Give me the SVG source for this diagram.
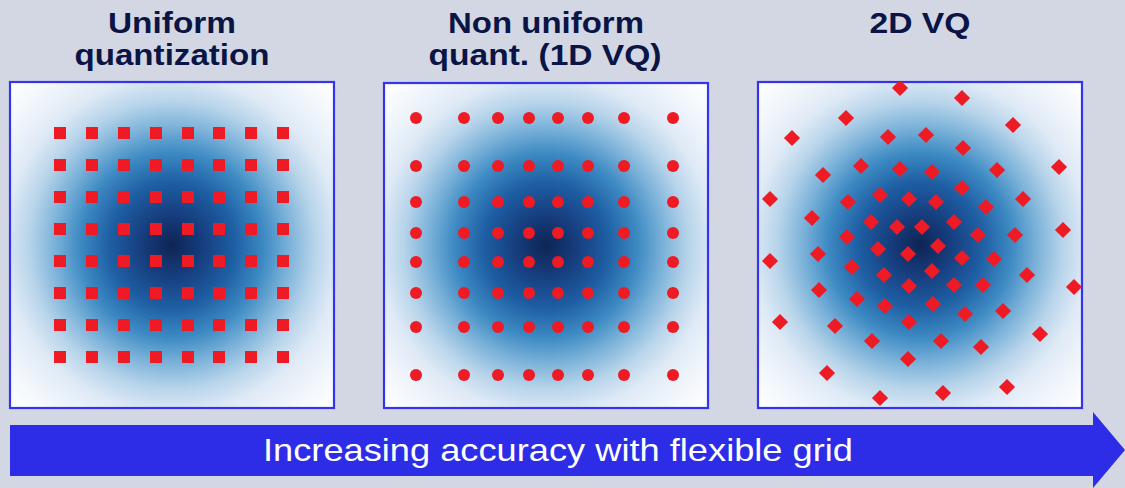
<svg xmlns="http://www.w3.org/2000/svg" width="1125" height="488" viewBox="0 0 1125 488">
<style>
.title{font-family:"Liberation Sans",Arial,sans-serif;font-weight:bold;font-size:29px;fill:#0a1445;text-anchor:middle}
.panel{stroke:#3434f0;stroke-width:2.2;fill:url(#blob)}
.pt{fill:#ee1a24}
.label{font-family:"Liberation Sans",Arial,sans-serif;font-size:32px;fill:#ffffff;text-anchor:middle}
</style>
<defs>
<radialGradient id="blob" cx="0.5" cy="0.5" r="0.71">
<stop offset="0" stop-color="#0e2454"/>
<stop offset="0.13" stop-color="#163d7d"/>
<stop offset="0.27" stop-color="#1e5ea3"/>
<stop offset="0.4" stop-color="#3d8ac3"/>
<stop offset="0.51" stop-color="#7bb2d9"/>
<stop offset="0.62" stop-color="#b7d4ea"/>
<stop offset="0.73" stop-color="#dfeaf6"/>
<stop offset="0.87" stop-color="#f3f7fc"/>
<stop offset="1" stop-color="#ffffff"/>
</radialGradient>
<rect id="sq" x="-6" y="-6" width="12" height="12"/>
<rect id="dm" x="-5.7" y="-5.7" width="11.4" height="11.4" transform="rotate(45)"/>
<clipPath id="clip3"><rect x="758" y="82" width="324" height="326"/></clipPath>
</defs>
<rect x="0" y="0" width="1125" height="488" fill="#d3d7e3"/>

<g id="uniform">
<text class="title" x="172" y="33" textLength="128" lengthAdjust="spacingAndGlyphs">Uniform</text>
<text class="title" x="172" y="65" textLength="195" lengthAdjust="spacingAndGlyphs">quantization</text>
<rect class="panel" x="10" y="82" width="324" height="326"/>
<g class="pt">
<use href="#sq" x="60" y="133"/><use href="#sq" x="92" y="133"/><use href="#sq" x="124" y="133"/><use href="#sq" x="156" y="133"/><use href="#sq" x="188" y="133"/><use href="#sq" x="219" y="133"/><use href="#sq" x="251" y="133"/><use href="#sq" x="283" y="133"/>
<use href="#sq" x="60" y="165"/><use href="#sq" x="92" y="165"/><use href="#sq" x="124" y="165"/><use href="#sq" x="156" y="165"/><use href="#sq" x="188" y="165"/><use href="#sq" x="219" y="165"/><use href="#sq" x="251" y="165"/><use href="#sq" x="283" y="165"/>
<use href="#sq" x="60" y="197"/><use href="#sq" x="92" y="197"/><use href="#sq" x="124" y="197"/><use href="#sq" x="156" y="197"/><use href="#sq" x="188" y="197"/><use href="#sq" x="219" y="197"/><use href="#sq" x="251" y="197"/><use href="#sq" x="283" y="197"/>
<use href="#sq" x="60" y="229"/><use href="#sq" x="92" y="229"/><use href="#sq" x="124" y="229"/><use href="#sq" x="156" y="229"/><use href="#sq" x="188" y="229"/><use href="#sq" x="219" y="229"/><use href="#sq" x="251" y="229"/><use href="#sq" x="283" y="229"/>
<use href="#sq" x="60" y="261"/><use href="#sq" x="92" y="261"/><use href="#sq" x="124" y="261"/><use href="#sq" x="156" y="261"/><use href="#sq" x="188" y="261"/><use href="#sq" x="219" y="261"/><use href="#sq" x="251" y="261"/><use href="#sq" x="283" y="261"/>
<use href="#sq" x="60" y="293"/><use href="#sq" x="92" y="293"/><use href="#sq" x="124" y="293"/><use href="#sq" x="156" y="293"/><use href="#sq" x="188" y="293"/><use href="#sq" x="219" y="293"/><use href="#sq" x="251" y="293"/><use href="#sq" x="283" y="293"/>
<use href="#sq" x="60" y="325"/><use href="#sq" x="92" y="325"/><use href="#sq" x="124" y="325"/><use href="#sq" x="156" y="325"/><use href="#sq" x="188" y="325"/><use href="#sq" x="219" y="325"/><use href="#sq" x="251" y="325"/><use href="#sq" x="283" y="325"/>
<use href="#sq" x="60" y="357"/><use href="#sq" x="92" y="357"/><use href="#sq" x="124" y="357"/><use href="#sq" x="156" y="357"/><use href="#sq" x="188" y="357"/><use href="#sq" x="219" y="357"/><use href="#sq" x="251" y="357"/><use href="#sq" x="283" y="357"/>
</g>
</g>

<g id="nonuniform">
<text class="title" x="546" y="33" textLength="196" lengthAdjust="spacingAndGlyphs">Non uniform</text>
<text class="title" x="545" y="65" textLength="233" lengthAdjust="spacingAndGlyphs">quant. (1D VQ)</text>
<rect class="panel" x="384" y="83" width="324" height="325"/>
<g class="pt">
<circle cx="416" cy="118" r="6"/><circle cx="464" cy="118" r="6"/><circle cx="498" cy="118" r="6"/><circle cx="529" cy="118" r="6"/><circle cx="558" cy="118" r="6"/><circle cx="588" cy="118" r="6"/><circle cx="624" cy="118" r="6"/><circle cx="673" cy="118" r="6"/>
<circle cx="416" cy="166" r="6"/><circle cx="464" cy="166" r="6"/><circle cx="498" cy="166" r="6"/><circle cx="529" cy="166" r="6"/><circle cx="558" cy="166" r="6"/><circle cx="588" cy="166" r="6"/><circle cx="624" cy="166" r="6"/><circle cx="673" cy="166" r="6"/>
<circle cx="416" cy="202" r="6"/><circle cx="464" cy="202" r="6"/><circle cx="498" cy="202" r="6"/><circle cx="529" cy="202" r="6"/><circle cx="558" cy="202" r="6"/><circle cx="588" cy="202" r="6"/><circle cx="624" cy="202" r="6"/><circle cx="673" cy="202" r="6"/>
<circle cx="416" cy="233" r="6"/><circle cx="464" cy="233" r="6"/><circle cx="498" cy="233" r="6"/><circle cx="529" cy="233" r="6"/><circle cx="558" cy="233" r="6"/><circle cx="588" cy="233" r="6"/><circle cx="624" cy="233" r="6"/><circle cx="673" cy="233" r="6"/>
<circle cx="416" cy="262" r="6"/><circle cx="464" cy="262" r="6"/><circle cx="498" cy="262" r="6"/><circle cx="529" cy="262" r="6"/><circle cx="558" cy="262" r="6"/><circle cx="588" cy="262" r="6"/><circle cx="624" cy="262" r="6"/><circle cx="673" cy="262" r="6"/>
<circle cx="416" cy="293" r="6"/><circle cx="464" cy="293" r="6"/><circle cx="498" cy="293" r="6"/><circle cx="529" cy="293" r="6"/><circle cx="558" cy="293" r="6"/><circle cx="588" cy="293" r="6"/><circle cx="624" cy="293" r="6"/><circle cx="673" cy="293" r="6"/>
<circle cx="416" cy="327" r="6"/><circle cx="464" cy="327" r="6"/><circle cx="498" cy="327" r="6"/><circle cx="529" cy="327" r="6"/><circle cx="558" cy="327" r="6"/><circle cx="588" cy="327" r="6"/><circle cx="624" cy="327" r="6"/><circle cx="673" cy="327" r="6"/>
<circle cx="416" cy="375" r="6"/><circle cx="464" cy="375" r="6"/><circle cx="498" cy="375" r="6"/><circle cx="529" cy="375" r="6"/><circle cx="558" cy="375" r="6"/><circle cx="588" cy="375" r="6"/><circle cx="624" cy="375" r="6"/><circle cx="673" cy="375" r="6"/>
</g>
</g>

<g id="vq2d">
<text class="title" x="920" y="33" textLength="101" lengthAdjust="spacingAndGlyphs">2D VQ</text>
<rect class="panel" x="758" y="82" width="324" height="326"/>
<g class="pt" clip-path="url(#clip3)">
<use href="#dm" x="900" y="88"/><use href="#dm" x="962" y="98"/><use href="#dm" x="846" y="118"/><use href="#dm" x="1013" y="125"/>
<use href="#dm" x="792" y="138"/><use href="#dm" x="888" y="137"/><use href="#dm" x="926" y="135"/><use href="#dm" x="963" y="148"/>
<use href="#dm" x="1059" y="167"/><use href="#dm" x="823" y="175"/><use href="#dm" x="861" y="166"/><use href="#dm" x="900" y="169"/>
<use href="#dm" x="932" y="172"/><use href="#dm" x="997" y="170"/><use href="#dm" x="962" y="188"/><use href="#dm" x="770" y="199"/>
<use href="#dm" x="848" y="202"/><use href="#dm" x="880" y="195"/><use href="#dm" x="909" y="199"/><use href="#dm" x="936" y="202"/>
<use href="#dm" x="986" y="207"/><use href="#dm" x="1023" y="199"/><use href="#dm" x="812" y="218"/><use href="#dm" x="871" y="222"/>
<use href="#dm" x="897" y="227"/><use href="#dm" x="922" y="227"/><use href="#dm" x="954" y="222"/><use href="#dm" x="847" y="237"/>
<use href="#dm" x="978" y="235"/><use href="#dm" x="1015" y="235"/><use href="#dm" x="1063" y="230"/><use href="#dm" x="878" y="249"/>
<use href="#dm" x="938" y="246"/><use href="#dm" x="908" y="254"/><use href="#dm" x="818" y="254"/><use href="#dm" x="962" y="258"/>
<use href="#dm" x="994" y="259"/><use href="#dm" x="770" y="261"/><use href="#dm" x="852" y="267"/><use href="#dm" x="932" y="271"/>
<use href="#dm" x="884" y="275"/><use href="#dm" x="1027" y="275"/><use href="#dm" x="909" y="286"/><use href="#dm" x="954" y="285"/>
<use href="#dm" x="983" y="285"/><use href="#dm" x="1074" y="287"/><use href="#dm" x="819" y="290"/><use href="#dm" x="857" y="299"/>
<use href="#dm" x="885" y="306"/><use href="#dm" x="933" y="304"/><use href="#dm" x="965" y="314"/><use href="#dm" x="1003" y="311"/>
<use href="#dm" x="780" y="322"/><use href="#dm" x="835" y="326"/><use href="#dm" x="909" y="322"/><use href="#dm" x="1040" y="334"/>
<use href="#dm" x="872" y="341"/><use href="#dm" x="941" y="341"/><use href="#dm" x="981" y="347"/><use href="#dm" x="908" y="359"/>
<use href="#dm" x="827" y="373"/><use href="#dm" x="1007" y="387"/><use href="#dm" x="943" y="393"/><use href="#dm" x="880" y="398"/>
</g>
</g>

<g id="arrow">
<path d="M10 425 H1093 V412 L1125 450 L1093 488 V476 H10 Z" fill="#2d2de8"/>
<text class="label" x="558" y="461" textLength="590" lengthAdjust="spacingAndGlyphs">Increasing accuracy with flexible grid</text>
</g>
</svg>
